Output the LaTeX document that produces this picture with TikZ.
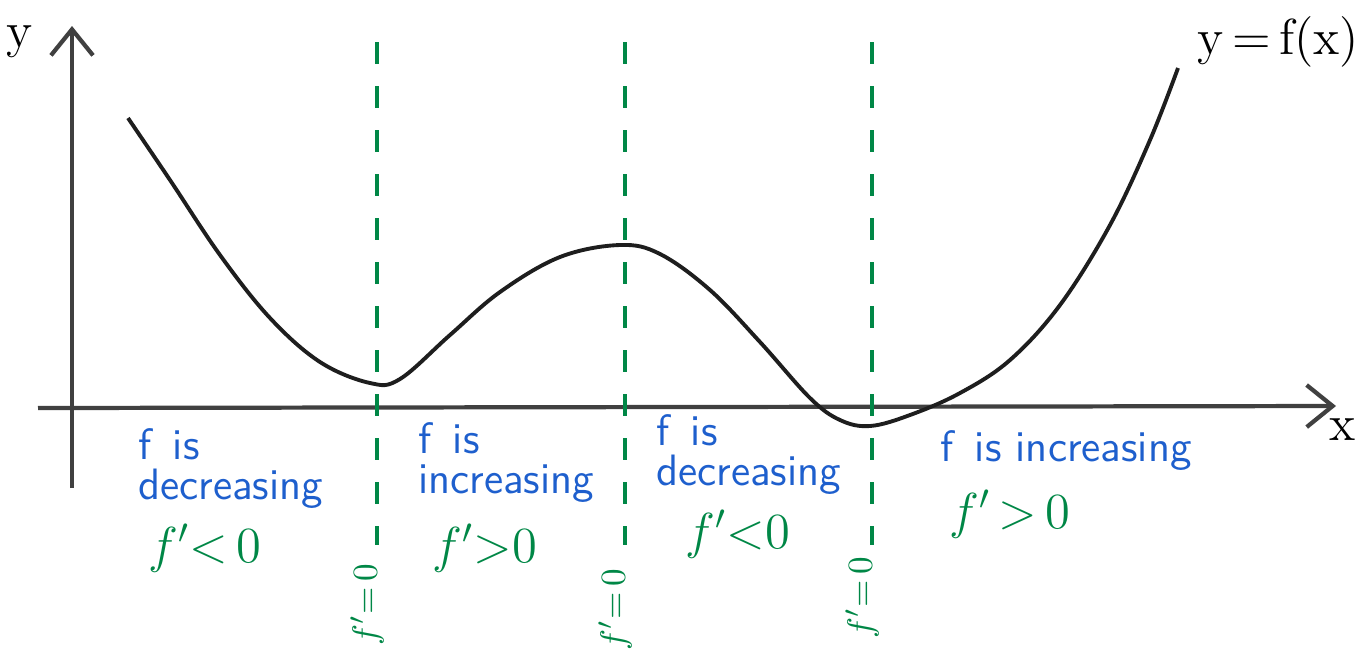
\documentclass[tikz,border=0pt]{standalone}
\usepackage{tikz}
\usetikzlibrary{arrows.meta,positioning}
\definecolor{penGreen}{RGB}{0,135,70}
\definecolor{penBlue}{RGB}{30,95,205}
\definecolor{penBlack}{RGB}{30,30,30}
\tikzset{
    axisLine/.style={
        -{Straight Barb[length=2.6mm,width=4.2mm]},
        line width=1.2pt,
        draw=penBlack!85
    },
    critLine/.style={
        draw=penGreen,
        line width=1.3pt,
        dash pattern=on 2.2mm off 2.2mm
    },
    % Labels
    signLbl/.style={font=\sffamily\fontsize{12.5}{11.5}\selectfont, text=penBlue, align=left, inner sep=1pt},
    derivLbl/.style={font=\Large, text=penGreen, inner sep=1pt},
    zeroLbl/.style={font=\normalsize, text=penGreen, rotate=90, inner sep=1pt}
}

\begin{document}
\begin{tikzpicture}[x=0.1mm, y=-0.1mm,
    curveLine/.style={line width=1.1pt, draw=penBlack}
]
\useasboundingbox (0,0) rectangle (1368,654);

% Axes
\coordinate (yBot) at (72,488);
\coordinate (yTop) at (72,26);
\coordinate (xL) at (38,408);
\coordinate (xR) at (1336,406);
\draw[axisLine] (yBot) -- (yTop);
\draw[axisLine] (xL) -- (xR);
\node[font=\Large] (ylab) at (20,42) {y};
\node[font=\Large] (xlab) at (1343,430) {x};

% Critical points
\foreach \i/\x/\ly in {1/377/605, 2/625/610, 3/872/598} {
    \coordinate (c\i top) at (\x,42);
    \coordinate (c\i bot) at (\x,545);
    \draw[critLine] (c\i top) -- (c\i bot);
    \node[zeroLbl] (z\i) at (\x-10,\ly) {$f'{=}\,0$};
}

% The function
\draw[curveLine] plot[smooth, tension=0.6] coordinates {
    (128,118) (170,180) (220,255) (270,318) (320,362) (370,383)
    (400,379) (450,335) (500,292) (560,257) (620,245) (660,254)
    (710,290) (760,342) (810,398) (840,420) (870,426) (910,415)
    (960,393) (1010,360) (1060,305) (1110,225) (1150,140) (1178,68)};
\node[font=\Large, anchor=west] (flab) at (1185,42) {y\,=\,f(x)};

% Monotonicity
\node[signLbl, anchor=north west] (s1) at (134,424) {f\, is\\decreasing};
\node[signLbl, anchor=north west] (s2) at (414,418) {f\, is\\increasing};
\node[signLbl, anchor=north west] (s3) at (652,410) {f\, is\\decreasing};
\node[signLbl, anchor=north west] (s4) at (936,426) {f\, is increasing};

\node[derivLbl] (d1) at (205,548) {$f'{<}\,0$};
\node[derivLbl] (d2) at (485,548) {$f'{>}0$};
\node[derivLbl] (d3) at (738,534) {$f'{<}0$};
\node[derivLbl] (d4) at (1010,514) {$f'\,{>}\,0$};
\end{tikzpicture}
\end{document}
